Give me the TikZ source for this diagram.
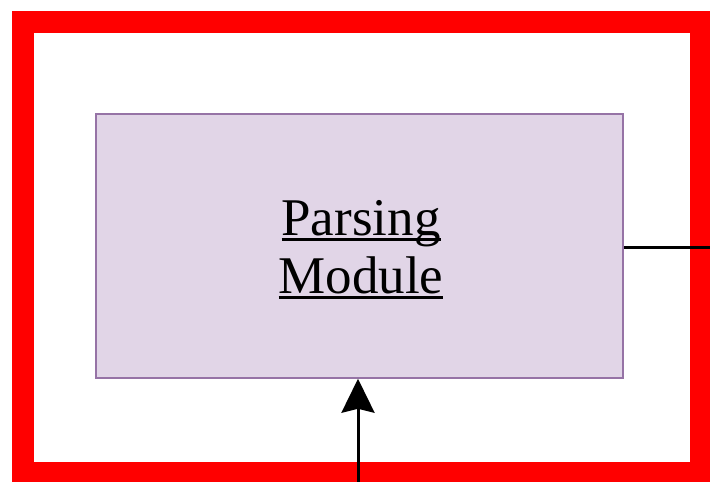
\documentclass[tikz,border=0pt]{standalone}
\usepackage{fontspec}
\setmainfont{Liberation Serif}
\usepackage{xcolor}
\usepackage{tikz}
\usetikzlibrary{calc,arrows.meta}
\definecolor{frame}{HTML}{FF0000}
\definecolor{modfill}{HTML}{E1D5E7}
\definecolor{modline}{HTML}{9673A6}
\definecolor{wire}{HTML}{000000}
\tikzset{
  outerframe/.style={draw=frame, line width=22pt},
  modbox/.style={draw=modline, line width=1.5pt, fill=modfill,
    minimum width=527pt, minimum height=264pt, inner sep=0pt},
  modtext/.style={align=center, inner sep=0pt, font=\fontsize{53}{58}\selectfont},
  wireline/.style={draw=wire, line width=3pt},
  wirearrow/.style={wireline, -{Stealth[length=34pt, width=33pt, inset=4pt]}}
}
% underline sitting just below the baseline, as in the drawing
\newcommand{\modlabel}[1]{\setbox0\hbox{#1}\rlap{\rule[-6pt]{\wd0}{2.6pt}}\box0}

\begin{document}
\begin{tikzpicture}[x=1pt, y=-1pt]
  \clip (0,0) rectangle (710,482);
  \fill[white] (0,0) rectangle (710,482);

  % red frame, cut off on the right and at the bottom
  \draw[outerframe] (23,22) rectangle (701,473);

  \node[modbox] (parser) at (359.5,246) {};
  \node[modtext, anchor=base] (parsertext) at (361,293)
    {\modlabel{Parsing}\\\modlabel{Module}};

  \coordinate (inlet) at (358,482);
  \coordinate (outlet) at (710,247);

  \draw[wirearrow] (inlet) -- (inlet |- parser.south);
  \draw[wireline] (parser.east |- outlet) -- (outlet);
\end{tikzpicture}
\end{document}
